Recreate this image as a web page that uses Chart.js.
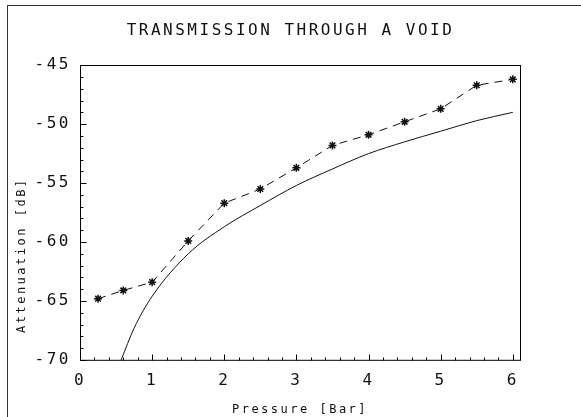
<!doctype html>
<html lang="en">
	<head>
		<meta charset="UTF-8" />
		<title>Transmission through a void</title>
		<script src="https://cdn.jsdelivr.net/npm/chart.js"></script>
		<style>
			body {
				margin: 0;
				background: #fff;
			}
			#wrap {
				position: relative;
				width: 581px;
				height: 417px;
				overflow: hidden;
			}
			/* outer frame of the scanned page */
			#frame {
				position: absolute;
				left: 7px;
				top: 5px;
				width: 620px;
				height: 450px;
				border-left: 1px solid #333;
				border-top: 1px solid #333;
			}
			canvas {
				position: absolute;
				left: 0;
				top: 0;
			}
		</style>
	</head>
	<body>
		<div id="wrap">
			<div id="frame"></div>
			<canvas id="chart" width="581" height="417"></canvas>
		</div>

		<script>
			const titleText = 'TRANSMISSION THROUGH A VOID'
			const xTitle = 'Pressure [Bar]'
			const yTitle = 'Attenuation [dB]'

			// measured points (dashed line with asterisks)
			const measuredX = [0.25, 0.6, 1.0, 1.5, 2.0, 2.5, 3.0, 3.5, 4.0, 4.5, 5.0, 5.5, 6.0]
			const measuredY = [-64.8, -64.1, -63.4, -59.9, -56.7, -55.5, -53.7, -51.8, -50.9, -49.8, -48.7, -46.7, -46.2]

			// theory curve (solid line)
			const theoryX = [0.57, 0.75, 1.0, 1.5, 2.0, 2.5, 3.0, 3.5, 4.0, 4.5, 5.0, 5.5, 6.0]
			const theoryY = [-70, -67.3, -64.6, -61.0, -58.7, -56.9, -55.2, -53.8, -52.5, -51.5, -50.6, -49.7, -49.0]

			const xTicks = [0, 1, 2, 3, 4, 5, 6]
			const xMin = 0
			const xMax = 6.1
			const yMin = -70
			const yMax = -45

			const font = 'DejaVu Sans Mono'
			const ink = '#111'

			// box, inward tick marks and the y title
			const plotFrame = {
				id: 'plotFrame',
				beforeDraw(chart) {
					chart.ctx.letterSpacing = '2.5px'
				},
				afterDraw(chart) {
					const { ctx, chartArea } = chart
					const x = chart.scales.x
					const y = chart.scales.y
					const bottom = Math.round(chartArea.bottom) + 0.5
					const left = Math.round(chartArea.left) + 0.5
					ctx.save()
					ctx.setLineDash([])
					ctx.strokeStyle = '#000'
					ctx.lineWidth = 1
					ctx.strokeRect(left, Math.round(chartArea.top) + 0.5, chartArea.right - chartArea.left, chartArea.bottom - chartArea.top)
					ctx.beginPath()
					for (let i = 0; i <= 30; i++) {
						const px = Math.round(x.getPixelForValue(i / 5)) + 0.5
						const len = i % 5 === 0 ? 6 : 3
						ctx.moveTo(px, bottom)
						ctx.lineTo(px, bottom - len)
					}
					for (let v = yMin; v <= yMax; v++) {
						const py = Math.round(y.getPixelForValue(v)) + 0.5
						const len = v % 5 === 0 ? 6 : 3
						ctx.moveTo(left, py)
						ctx.lineTo(left + len, py)
					}
					ctx.stroke()
					ctx.restore()

					ctx.save()
					ctx.letterSpacing = '2.5px'
					ctx.fillStyle = ink
					ctx.font = '12px "' + font + '"'
					ctx.translate(22, chartArea.bottom - 27)
					ctx.rotate(-Math.PI / 2)
					ctx.textAlign = 'left'
					ctx.textBaseline = 'middle'
					ctx.fillText(yTitle, 0, 0)
					ctx.restore()
				}
			}

			new Chart(document.getElementById('chart'), {
				type: 'line',
				data: {
					datasets: [
						{
							label: 'measured',
							data: measuredX.map((v, i) => ({ x: v, y: measuredY[i] })),
							borderColor: ink,
							borderWidth: 1,
							borderDash: [8, 6],
							pointStyle: 'star',
							pointRadius: 4,
							pointBorderColor: ink,
							pointBorderWidth: 1.5,
							tension: 0
						},
						{
							label: 'theory',
							data: theoryX.map((v, i) => ({ x: v, y: theoryY[i] })),
							borderColor: ink,
							borderWidth: 1,
							pointRadius: 0,
							cubicInterpolationMode: 'monotone'
						}
					]
				},
				options: {
					responsive: false,
					animation: false,
					layout: { padding: { top: 15, left: 0, right: 0, bottom: 0 } },
					plugins: {
						legend: { display: false },
						tooltip: { enabled: false },
						title: {
							display: true,
							text: titleText,
							color: ink,
							font: { family: font, size: 16, weight: 'normal' },
							padding: { top: 6, bottom: 25 }
						}
					},
					scales: {
						x: {
							type: 'linear',
							min: xMin,
							max: xMax,
							ticks: {
								color: ink,
								padding: 11,
								maxRotation: 0,
								autoSkip: false,
								font: { family: font, size: 16 }
							},
							afterBuildTicks: (s) => {
								s.ticks = xTicks.map((v) => ({ value: v }))
							},
							afterFit: (s) => {
								s.height = 57
							},
							grid: { display: false, drawTicks: false },
							border: { display: false },
							title: {
								display: true,
								text: xTitle,
								color: ink,
								font: { family: font, size: 12 },
								padding: { top: 0, bottom: 0 }
							}
						},
						y: {
							type: 'linear',
							min: yMin,
							max: yMax,
							ticks: {
								stepSize: 5,
								color: ink,
								padding: 9,
								font: { family: font, size: 16 }
							},
							afterFit: (s) => {
								s.width = 80
							},
							grid: { display: false, drawTicks: false },
							border: { display: false }
						},
						yR: {
							position: 'right',
							display: true,
							ticks: { display: false },
							grid: { display: false, drawTicks: false },
							border: { display: false },
							afterFit: (s) => {
								s.width = 61
							}
						}
					}
				},
				plugins: [plotFrame]
			})
		</script>
	</body>
</html>
